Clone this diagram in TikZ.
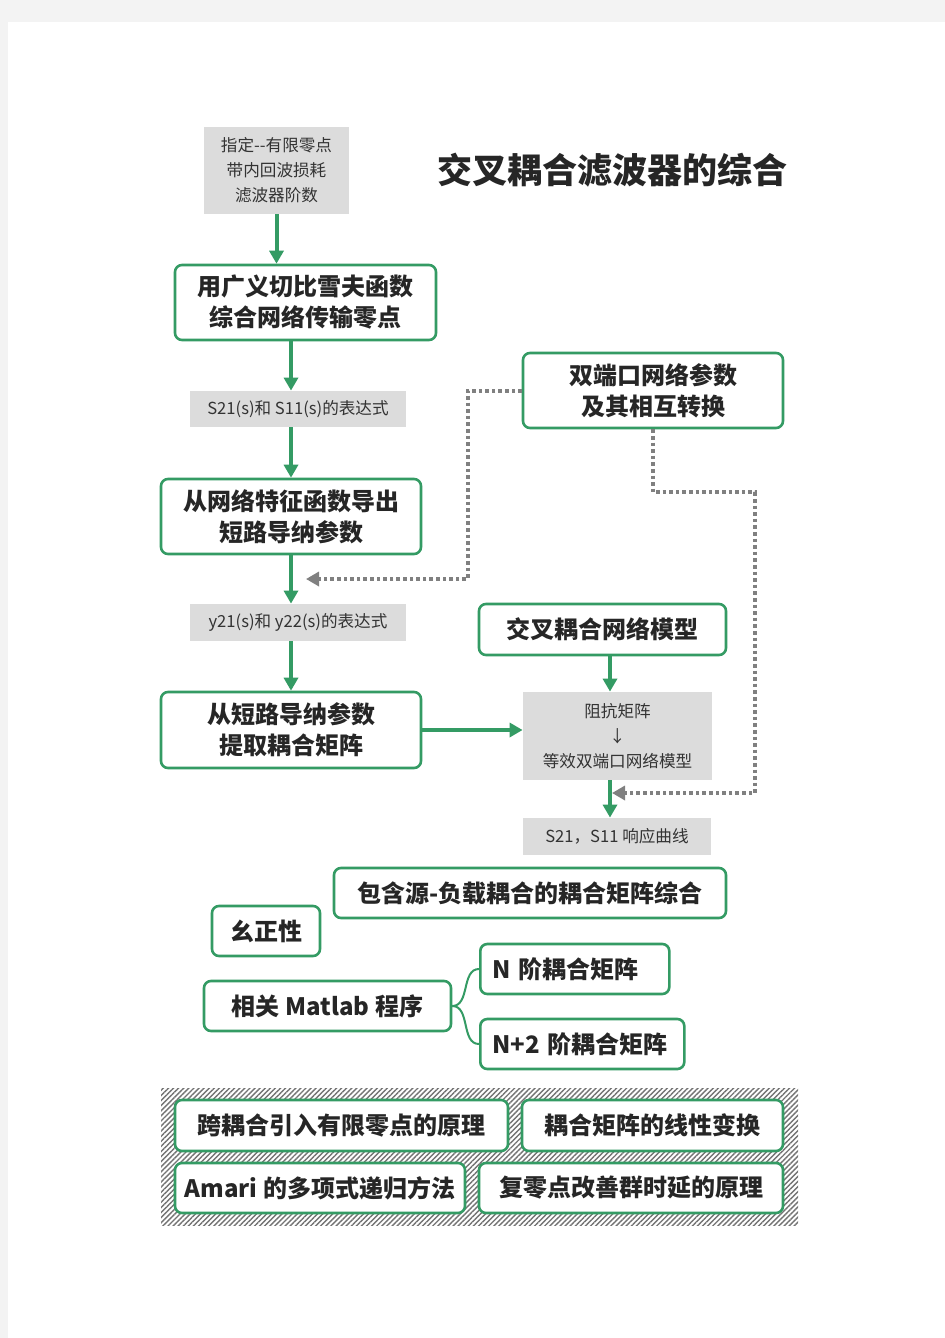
\documentclass[tikz,border=0pt]{standalone}
\usepackage{fontspec}
\setmainfont{Noto Sans CJK SC}
\usetikzlibrary{arrows.meta}
\usetikzlibrary{patterns.meta}
\definecolor{flowgreen}{RGB}{52,155,100}
\definecolor{boxgray}{RGB}{220,220,220}
\definecolor{pagegray}{RGB}{243,243,243}

\begin{document}
\begin{tikzpicture}
		[x=0.5pt, y=-0.5pt,
		greenbox/.style={draw=flowgreen, line width=1.3pt, rounded corners=3.5pt, fill=white, inner sep=0pt, text=black!85, font=\bfseries\fontsize{12}{15.5}\selectfont, align=center},
		graybox/.style={fill=boxgray, inner sep=0pt, text=black!80, font=\fontsize{8.3}{12.5}\selectfont, align=center},
		flow/.style={draw=flowgreen, line width=2pt, -{Triangle[width=7pt,length=6.5pt]}},
		feedback/.style={draw=black!50, line width=2pt, dash pattern=on 1.8pt off 1.5pt, -{Triangle[width=7pt,length=6.5pt]}}]
		\fill[pagegray] (0,0) rectangle (945,1338);
		\fill[white] (8,22) rectangle (945,1338);
		\useasboundingbox (0,0) rectangle (945,1338);

		\node[graybox, minimum width=72.5pt, minimum height=43.5pt] (spec) at (276.5,170.5) {指定-{}-有限零点\\带内回波损耗\\滤波器阶数};
		\node[font=\bfseries\fontsize{17.5}{20}\selectfont, text=black!85] (title) at (612,170) {交叉耦合滤波器的综合};
		\node[greenbox, minimum width=130.5pt, minimum height=37.5pt] (cheby) at (305.5,302.5) {用广义切比雪夫函数\\综合网络传输零点};
		\node[graybox, minimum width=108pt, minimum height=18pt] (sexpr) at (298,409) {S21(s)和 S11(s)的表达式};
		\node[greenbox, minimum width=130pt, minimum height=37.5pt] (twoport) at (653,390.5) {双端口网络参数\\及其相互转换};
		\node[greenbox, minimum width=130pt, minimum height=37.5pt] (admit) at (291,516.5) {从网络特征函数导出\\短路导纳参数};
		\node[graybox, minimum width=108pt, minimum height=18.5pt] (yexpr) at (298,622.5) {y21(s)和 y22(s)的表达式};
		\node[greenbox, minimum width=123.5pt, minimum height=25.5pt] (model) at (602.5,629.5) {交叉耦合网络模型};
		\node[greenbox, minimum width=130pt, minimum height=38pt] (extract) at (291,730) {从短路导纳参数\\提取耦合矩阵};
		\node[graybox, minimum width=94.5pt, minimum height=44pt] (equiv) at (617.5,736) {阻抗矩阵\\↓\\等效双端口网络模型};
		\node[graybox, minimum width=94pt, minimum height=18.5pt] (resp) at (617,836.5) {S21，S11 响应曲线};
		\node[greenbox, minimum width=196pt, minimum height=25pt] (srcload) at (530,893) {包含源-负载耦合的耦合矩阵综合};
		\node[greenbox, minimum width=54pt, minimum height=25pt] (unitary) at (266,931) {幺正性};
		\node[greenbox, minimum width=123.5pt, minimum height=25pt] (matlab) at (327.5,1006) {相关 Matlab 程序};
		\node[greenbox, anchor=west, text width=82.5pt, inner xsep=6pt, align=left, minimum height=25pt] (nmat) at (479,969) {N 阶耦合矩阵};
		\node[greenbox, anchor=west, text width=90pt, inner xsep=6pt, align=left, minimum height=25pt] (n2mat) at (479,1044) {N+2 阶耦合矩阵};

		\fill[white] (161,1088) rectangle (798,1225);
		\fill[pattern={Lines[angle=45,distance=1.8pt,line width=0.7pt]}, pattern color=black!55] (161,1088) rectangle (798,1225);
		\node[greenbox, minimum width=166.5pt, minimum height=25.5pt] (crossz) at (341.5,1125.5) {跨耦合引入有限零点的原理};
		\node[greenbox, minimum width=130.5pt, minimum height=25.5pt] (linear) at (652.5,1125.5) {耦合矩阵的线性变换};
		\node[greenbox, minimum width=145pt, minimum height=25pt] (amari) at (320,1188) {Amari 的多项式递归方法};
		\node[greenbox, minimum width=152pt, minimum height=25pt] (delay) at (631,1188) {复零点改善群时延的原理};

		\coordinate (colL) at (291,0);
		\coordinate (colR) at (610,0);
		\coordinate (tipE) at (306,579);
		\coordinate (tipR) at (612,793);

		\draw[flow] (spec.south) -- (spec.south |- cheby.north);
		\draw[flow] (cheby.south -| colL) -- (sexpr.north -| colL);
		\draw[flow] (sexpr.south -| colL) -- (admit.north);
		\draw[flow] (admit.south) -- (yexpr.north -| colL);
		\draw[flow] (yexpr.south -| colL) -- (extract.north);
		\draw[flow] (extract.east) -- (extract.east -| equiv.west);
		\draw[flow] (model.south -| colR) -- (equiv.north -| colR);
		\draw[flow] (equiv.south -| colR) -- (resp.north -| colR);

		\draw[feedback] (twoport.west) -- ++(-54,0) |- (tipE);
		\draw[feedback] (twoport.south) -- ++(0,63) -- ++(102,0) |- (tipR);

		\draw[flowgreen, line width=1pt] (matlab.east) to[out=0, in=180] (nmat.west);
		\draw[flowgreen, line width=1pt] (matlab.east) to[out=0, in=180] (n2mat.west);
	\end{tikzpicture}
\end{document}
